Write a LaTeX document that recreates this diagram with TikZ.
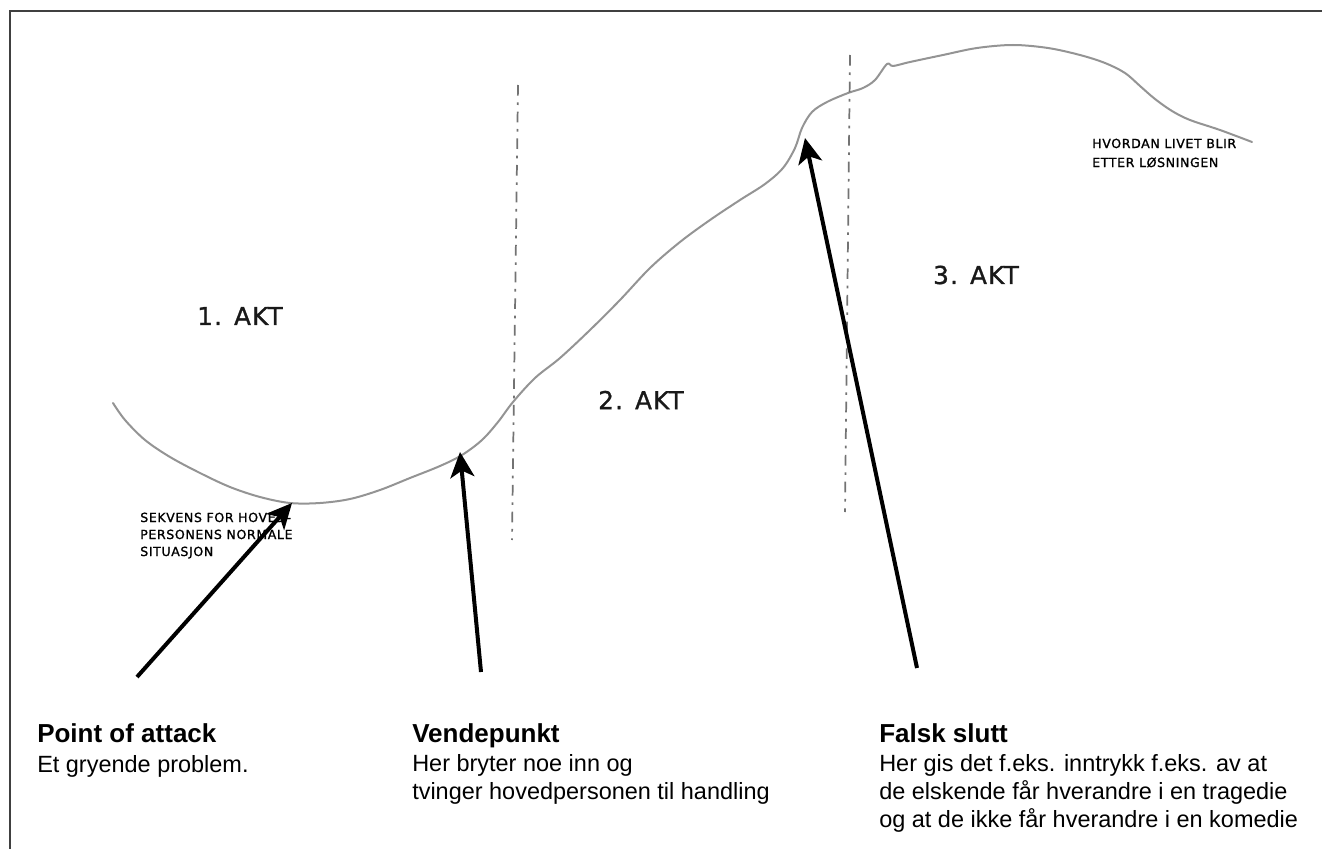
\documentclass[tikz,border=0pt]{standalone}
\usepackage{fontspec}
\setmainfont{Liberation Sans}
\newfontfamily\handfont[LetterSpace=5, FakeBold=1.2]{DejaVu Sans}
\usetikzlibrary{arrows.meta}
\begin{document}
\begin{tikzpicture}[x=0.75pt,y=-0.75pt,
  frameline/.style={draw=black!75, line width=1.5pt},
  curve/.style={draw=black!42, line width=1.5pt, line join=round, line cap=round},
  divider/.style={draw=black!55, line width=1.3pt, dash pattern=on 8pt off 5pt on 2pt off 5pt},
  pointer/.style={draw=black, line width=3pt, -{Stealth[length=19pt,width=18pt,inset=5pt]}},
  title/.style={anchor=base west, inner sep=0pt, font=\bfseries\fontsize{19.5}{23}\selectfont},
  body/.style={anchor=base west, inner sep=0pt, font=\fontsize{17.6}{21}\selectfont},
  actlabel/.style={inner sep=0pt, text=black!90, font=\handfont\fontsize{18.5}{22}\selectfont},
  note/.style={anchor=base west, inner sep=0pt, text=black, font=\handfont\fontsize{9.4}{11}\selectfont}]
\useasboundingbox (0,0) rectangle (1322,849);
% frame
\draw[frameline] (10,849) -- (10,11) -- (1322,11);
% story curve
\draw[curve] plot[smooth, tension=0.55] coordinates {
 (113,403) (125,420) (145,440) (170,457) (200,473) (230,487) (260,497) (290,503)
 (320,503) (350,499) (380,490) (410,478) (440,466) (462,455) (482,440) (498,422)
 (513,402) (535,378) (560,358) (590,330) (620,300) (650,268) (680,242) (710,220)
 (740,200) (765,184) (783,168) (795,148) (802,128) (812,112) (827,102) (848,93)
 (863,88) (875,80) (887,64) (893,66) (910,62) (943,55) (977,48) (1013,45)
 (1048,48) (1080,55) (1105,63) (1125,73) (1140,86) (1155,99) (1172,111)
 (1190,120) (1220,130) (1252,142)};
% act dividers
\coordinate (d1top) at (518,85);
\coordinate (d1bot) at (512,540);
\coordinate (d2top) at (850,55);
\coordinate (d2bot) at (845,512);
\draw[divider] (d1top) -- (d1bot);
\draw[divider] (d2top) -- (d2bot);
% act labels
\node[actlabel] (akt1) at (240,316) {1. AKT};
\node[actlabel] (akt2) at (641,400) {2. AKT};
\node[actlabel] (akt3) at (976,275) {3. AKT};
% small notes
\node[note] (sek1) at (140,522) {SEKVENS FOR HOVED-};
\node[note] (sek2) at (140,539) {PERSONENS NORMALE};
\node[note] (sek3) at (140,556) {SITUASJON};
\node[note] (hv1) at (1092,148) {HVORDAN LIVET BLIR};
\node[note] (hv2) at (1092,167) {ETTER LØSNINGEN};
% arrows
\coordinate (a1s) at (137,677);
\coordinate (a1t) at (292,503);
\coordinate (a2s) at (481,672);
\coordinate (a2t) at (460,452);
\coordinate (a3s) at (917,668);
\coordinate (a3t) at (805,138);
\draw[pointer] (a1s) -- (a1t);
\draw[pointer] (a2s) -- (a2t);
\draw[pointer] (a3s) -- (a3t);
% bottom captions
\node[title] (poa) at (37,742) {Point of attack};
\node[body] (poa1) at (37,772) {Et gryende problem.};
\node[title] (vp) at (412,742) {Vendepunkt};
\node[body] (vp1) at (412,771) {Her bryter noe inn og};
\node[body] (vp2) at (412,799) {tvinger hovedpersonen til handling};
\node[title] (fs) at (879,742) {Falsk slutt};
\node[body] (fs1) at (879,771) {Her gis det f.eks. inntrykk f.eks. av at};
\node[body] (fs2) at (879,799) {de elskende får hverandre i en tragedie};
\node[body] (fs3) at (879,827) {og at de ikke får hverandre i en komedie};
\end{tikzpicture}
\end{document}
